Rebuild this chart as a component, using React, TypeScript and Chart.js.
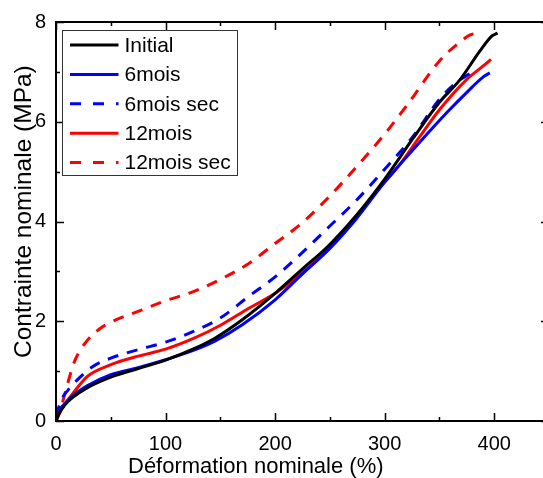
import React, { useEffect, useRef } from 'react';
import { Chart, registerables } from 'chart.js';

Chart.register(...registerables);

// ---- data ----
const xTickValues = [0, 100, 200, 300, 400];
const yTickValues = [0, 2, 4, 6, 8];
const xMinorTicks = [50, 150, 250, 350];
const yMinorTicks = [1, 3, 5, 7];

const xTitle = 'Déformation nominale (%)';
const yTitle = 'Contrainte nominale (MPa)';

const initialX = [0, 3, 8, 15, 28, 50, 75, 100, 126, 145, 170, 200, 224, 249, 274, 300, 326, 350, 369, 387, 398, 403];
const initialY = [0, 0.15, 0.32, 0.47, 0.66, 0.88, 1.05, 1.22, 1.45, 1.66, 2.03, 2.56, 3.03, 3.52, 4.12, 4.85, 5.67, 6.39, 6.85, 7.42, 7.72, 7.78];

const sixX = [0, 3, 8, 15, 28, 50, 75, 100, 126, 145, 170, 200, 224, 250, 274, 300, 332, 357, 375, 390, 396];
const sixY = [0.12, 0.22, 0.35, 0.5, 0.7, 0.93, 1.07, 1.23, 1.42, 1.6, 1.93, 2.43, 2.93, 3.46, 4.05, 4.79, 5.59, 6.19, 6.59, 6.9, 6.98];

const sixSecX = [0, 5, 11, 22, 34, 50, 75, 100, 126, 151, 176, 200, 224, 249, 274, 300, 325, 350, 365, 378];
const sixSecY = [0.1, 0.43, 0.62, 0.88, 1.1, 1.26, 1.43, 1.58, 1.8, 2.08, 2.5, 2.89, 3.36, 3.89, 4.42, 5.05, 5.68, 6.45, 6.78, 6.97];

const twelveX = [0, 4, 8, 17, 29, 49, 75, 100, 126, 151, 176, 200, 224, 249, 274, 300, 312, 332, 350, 375, 390, 397];
const twelveY = [0, 0.2, 0.34, 0.6, 0.9, 1.12, 1.3, 1.44, 1.66, 1.93, 2.26, 2.56, 2.96, 3.46, 4.09, 4.79, 5.09, 5.7, 6.24, 6.85, 7.12, 7.25];

const twelveSecX = [0, 5, 10, 17, 28, 40, 50, 75, 100, 126, 151, 176, 200, 224, 249, 274, 298, 320, 350, 366, 378, 385];
const twelveSecY = [0, 0.3, 0.7, 1.2, 1.6, 1.85, 1.98, 2.2, 2.41, 2.6, 2.85, 3.16, 3.56, 3.96, 4.49, 5.09, 5.7, 6.32, 7.22, 7.55, 7.74, 7.78];

const FONT = '"Liberation Sans", Arial, sans-serif';

const toPoints = (xs: number[], ys: number[]) => xs.map((x, i) => ({ x, y: ys[i] }));

const framePlugin = {
  id: 'frameTicks',
  afterDatasetsDraw(chart: any) {
    const { ctx, chartArea: a, scales } = chart;
    const x = scales.x;
    const y = scales.y;
    ctx.save();
    ctx.strokeStyle = '#000';
    ctx.lineWidth = 2;
    ctx.strokeRect(a.left, a.top, a.right - a.left, a.bottom - a.top);
    ctx.lineWidth = 1.5;
    ctx.beginPath();
    const xt = (vals: number[], len: number) => {
      vals.forEach((v) => {
        const p = Math.round(x.getPixelForValue(v)) + 0.5;
        ctx.moveTo(p, a.bottom);
        ctx.lineTo(p, a.bottom - len);
        ctx.moveTo(p, a.top);
        ctx.lineTo(p, a.top + len);
      });
    };
    const yt = (vals: number[], len: number) => {
      vals.forEach((v) => {
        const p = Math.round(y.getPixelForValue(v)) + 0.5;
        ctx.moveTo(a.left, p);
        ctx.lineTo(a.left + len, p);
        ctx.moveTo(a.right, p);
        ctx.lineTo(a.right - len, p);
      });
    };
    xt(xTickValues, 8);
    xt(xMinorTicks, 4);
    yt(yTickValues, 8);
    yt(yMinorTicks, 4);
    ctx.stroke();
    ctx.restore();
  },
  afterDraw(chart: any) {
    const { ctx, chartArea: a } = chart;
    ctx.save();
    ctx.fillStyle = '#000';
    // axis titles
    ctx.font = `22px ${FONT}`;
    ctx.textAlign = 'left';
    ctx.textBaseline = 'alphabetic';
    ctx.fillText(xTitle, 128, 472.5);
    ctx.save();
    ctx.translate(30.5, 358);
    ctx.rotate(-Math.PI / 2);
    ctx.font = `24.5px ${FONT}`;
    ctx.fillText(yTitle, 0, 0);
    ctx.restore();

    // legend
    const bx = a.left + 6.5;
    const by = a.top + 8.5;
    const bw = 175;
    const bh = 145;
    ctx.fillStyle = '#fff';
    ctx.fillRect(bx, by, bw, bh);
    ctx.strokeStyle = '#333';
    ctx.lineWidth = 1;
    ctx.strokeRect(bx, by, bw, bh);
    chart.data.datasets.forEach((ds: any, i: number) => {
      const cy = a.top + 23 + i * 29.4;
      ctx.beginPath();
      ctx.strokeStyle = ds.borderColor;
      ctx.lineWidth = 3;
      ctx.setLineDash(ds.borderDash && ds.borderDash.length ? [11, 12] : []);
      ctx.moveTo(bx + 7.5, cy);
      ctx.lineTo(bx + 56, cy);
      ctx.stroke();
      ctx.setLineDash([]);
      ctx.fillStyle = '#000';
      ctx.font = `21px ${FONT}`;
      ctx.textBaseline = 'middle';
      ctx.fillText(ds.label, bx + 62, cy + 1);
    });
    ctx.restore();
  },
};

export default function App() {
  const ref = useRef<HTMLCanvasElement | null>(null);
  useEffect(() => {
    if (!ref.current) return;
    const mk = (label: string, xs: number[], ys: number[], color: string, dashed: boolean) => ({
      label,
      data: toPoints(xs, ys),
      borderColor: color,
      backgroundColor: color,
      borderWidth: 3,
      borderDash: dashed ? [11, 9] : [],
      pointRadius: 0,
      tension: 0.4,
      cubicInterpolationMode: 'monotone',
      fill: false,
    });
    const chart = new Chart(ref.current, {
      type: 'line',
      data: {
        datasets: [
          mk('Initial', initialX, initialY, '#000000', false),
          mk('6mois', sixX, sixY, '#0000ff', false),
          mk('6mois sec', sixSecX, sixSecY, '#0000ff', true),
          mk('12mois', twelveX, twelveY, '#ff0000', false),
          mk('12mois sec', twelveSecX, twelveSecY, '#ff0000', true),
        ] as any,
      },
      options: {
        animation: false,
        responsive: false,
        devicePixelRatio: 1,
        layout: { padding: { top: 21, right: 11, left: 0, bottom: 0 } },
        plugins: { legend: { display: false }, tooltip: { enabled: false } },
        scales: {
          x: {
            type: 'linear',
            min: 0,
            max: 450,
            afterFit: (s: any) => { s.height = 57; },
            afterBuildTicks: (s: any) => { s.ticks = xTickValues.map((v) => ({ value: v })); },
            grid: { display: false, drawTicks: false },
            border: { display: false },
            ticks: { color: '#000', font: { family: FONT, size: 20 }, padding: 11, maxRotation: 0 },
          },
          y: {
            type: 'linear',
            min: 0,
            max: 8,
            afterFit: (s: any) => { s.width = 56; },
            afterBuildTicks: (s: any) => { s.ticks = yTickValues.map((v) => ({ value: v })); },
            grid: { display: false, drawTicks: false },
            border: { display: false },
            ticks: { color: '#000', font: { family: FONT, size: 20 }, padding: 10 },
          },
        },
      },
      plugins: [framePlugin],
    });
    return () => chart.destroy();
  }, []);
  return (
    <div style={{ position: 'fixed', left: 0, top: 0, width: 543, height: 478, overflow: 'hidden', background: '#fff' }}>
      <canvas ref={ref} width={560} height={478} style={{ width: 560, height: 478, display: 'block' }} />
    </div>
  );
}
